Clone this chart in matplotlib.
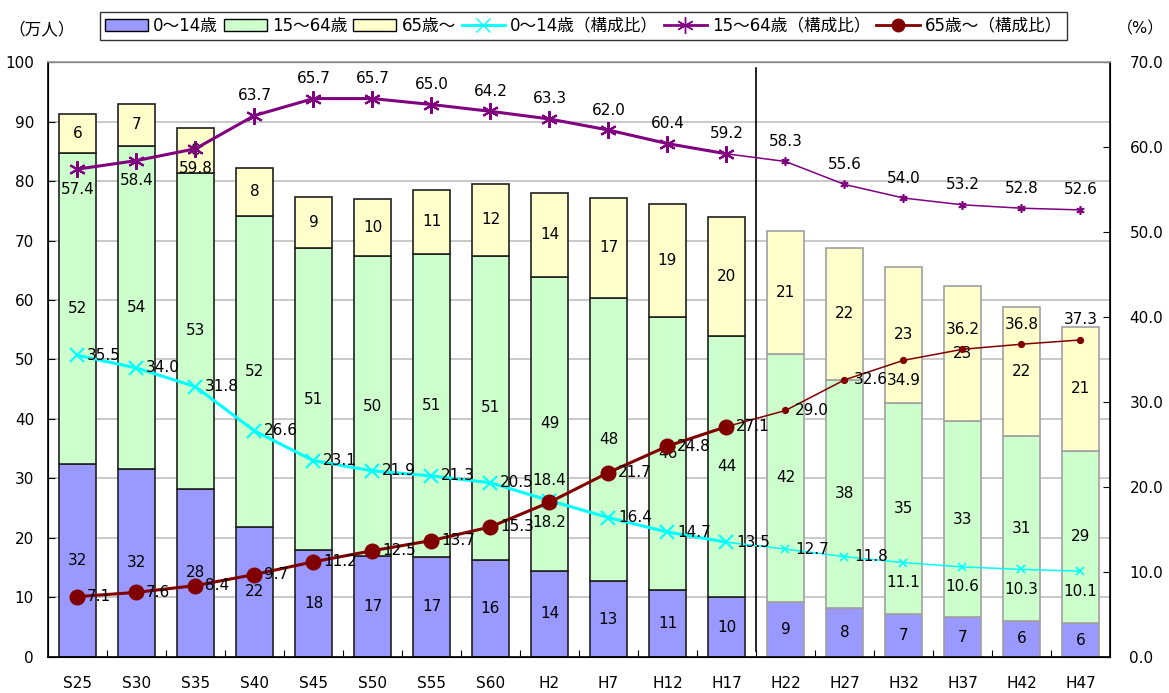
import numpy as np
import matplotlib.pyplot as plt
from matplotlib.patches import Patch
from matplotlib.lines import Line2D

plt.rcParams['font.family'] = ['DejaVu Sans', 'Noto Sans CJK JP']

years = ["S25", "S30", "S35", "S40", "S45", "S50", "S55", "S60", "H2", "H7",
         "H12", "H17", "H22", "H27", "H32", "H37", "H42", "H47"]

# population (万人)
pop_young = [32.4, 31.6, 28.3, 21.9, 17.9, 16.9, 16.8, 16.3, 14.5, 12.7,
             11.2, 10.0, 9.2, 8.2, 7.3, 6.7, 6.1, 5.7]
pop_work = [52.3, 54.3, 53.1, 52.3, 50.8, 50.5, 51.0, 51.1, 49.4, 47.6,
            46.0, 44.0, 41.8, 38.4, 35.4, 32.9, 31.0, 29.0]
pop_old = [6.5, 7.1, 7.5, 8.0, 8.6, 9.6, 10.7, 12.1, 14.1, 16.9,
           19.0, 20.0, 20.6, 22.2, 22.9, 22.7, 21.7, 20.7]

# share (%)
pct_young = [35.5, 34.0, 31.8, 26.6, 23.1, 21.9, 21.3, 20.5, 18.4, 16.4,
             14.7, 13.5, 12.7, 11.8, 11.1, 10.6, 10.3, 10.1]
pct_work = [57.4, 58.4, 59.8, 63.7, 65.7, 65.7, 65.0, 64.2, 63.3, 62.0,
            60.4, 59.2, 58.3, 55.6, 54.0, 53.2, 52.8, 52.6]
pct_old = [7.1, 7.6, 8.4, 9.7, 11.2, 12.5, 13.7, 15.3, 18.2, 21.7,
           24.8, 27.1, 29.0, 32.6, 34.9, 36.2, 36.8, 37.3]

n = len(years)
n_past = 12
x = np.arange(n) + 0.5

c_young, c_work, c_old = '#9999FF', '#CCFFCC', '#FFFFCC'
l_young, l_work, l_old = '#00FFFF', '#800080', '#800000'
star = (6, 2, 0)
fs = 11

fig = plt.figure(figsize=(11.69, 6.93), dpi=100)
ax = fig.add_axes([0.041, 0.052, 0.9085, 0.8585])
ax2 = ax.twinx()

edges = ['#202020'] * n_past + ['#A0A0A0'] * (n - n_past)
bottom = np.zeros(n)
for vals, col in [(pop_young, c_young), (pop_work, c_work), (pop_old, c_old)]:
    v = np.array(vals)
    ax.bar(x, v, 0.63, bottom=bottom, color=col, edgecolor=edges, linewidth=1.2, zorder=2)
    for xi, b, h in zip(x, bottom, v):
        ax.text(xi, b + h / 2, f"{h:.0f}", ha='center', va='center', fontsize=fs, zorder=3)
    bottom += v

ax.set_xlim(0, n)
ax.set_ylim(0, 100)
ax.set_yticks(range(0, 101, 10))
ax.yaxis.grid(True, color='#C0C0C0', linewidth=1.2, zorder=0)
ax.set_axisbelow(True)
ax.set_xticks(np.arange(1, n))
ax.set_xticklabels([])
ax.set_xticks(x, minor=True)
ax.set_xticklabels(years, minor=True, fontsize=fs)
ax.tick_params(axis='x', which='minor', length=0, pad=14)
ax.tick_params(axis='x', which='major', direction='in', length=5)
ax.tick_params(axis='y', direction='in', length=5, labelsize=fs, pad=10)
ax.axvline(12, ymin=0.01, ymax=0.99, color='black', linewidth=1.2, zorder=3)

ax2.set_ylim(0, 70)
ax2.set_yticks(range(0, 71, 10))
ax2.set_yticklabels([f"{t:.1f}" for t in range(0, 71, 10)])
ax2.tick_params(axis='y', direction='in', length=5, labelsize=fs, pad=14)

for sp in ['left', 'bottom', 'right']:
    ax2.spines[sp].set_color('black')
    ax2.spines[sp].set_linewidth(1.2)
ax2.spines['top'].set_color('#A0A0A0')
ax2.spines['top'].set_linewidth(1.2)

series = [(pct_young, l_young, 'x', 10, 6), (pct_work, l_work, star, 12, 6),
          (pct_old, l_old, 'o', 10, 4)]
for vals, col, mk, ms_big, ms_small in series:
    v = np.array(vals)
    ax2.plot(x[n_past - 1:], v[n_past - 1:], color=col, lw=1.1, zorder=4)
    ax2.plot(x[n_past:], v[n_past:], ls='none', marker=mk, color=col, ms=ms_small,
             mew=1.2, zorder=5)
    ax2.plot(x[:n_past], v[:n_past], color=col, lw=2.2, marker=mk, ms=ms_big,
             mew=1.5, zorder=5)

# label placement: 'r' right, 'a' above, 'b' below
pos_young = ['r'] * 8 + ['a'] + ['r'] * 5 + ['b'] * 4
pos_work = ['b'] * 3 + ['a'] * 15
pos_old = ['r'] * 8 + ['b'] + ['r'] * 5 + ['b'] + ['a'] * 3
offsets = {'r': ((7, 0), 'left', 'center'), 'a': ((0, 9), 'center', 'bottom'),
           'b': ((0, -9), 'center', 'top')}
for vals, poss in [(pct_young, pos_young), (pct_work, pos_work), (pct_old, pos_old)]:
    for xi, v, p in zip(x, vals, poss):
        off, ha, va = offsets[p]
        ax2.annotate(f"{v:.1f}", (xi, v), xytext=off, textcoords='offset points',
                     ha=ha, va=va, fontsize=fs, zorder=6)

handles = [
    Patch(facecolor=c_young, edgecolor='black', label='0～14歳'),
    Patch(facecolor=c_work, edgecolor='black', label='15～64歳'),
    Patch(facecolor=c_old, edgecolor='black', label='65歳～'),
    Line2D([], [], color=l_young, marker='x', ms=10, lw=2, label='0～14歳（構成比）'),
    Line2D([], [], color=l_work, marker=star, ms=12, lw=2, label='15～64歳（構成比）'),
    Line2D([], [], color=l_old, marker='o', ms=9, lw=2, label='65歳～（構成比）'),
]
fig.legend(handles=handles, loc='upper center', bbox_to_anchor=(0.499, 0.995), ncol=6,
           fontsize=12, frameon=True, fancybox=False, edgecolor='black',
           handlelength=2.6, handletextpad=0.3, columnspacing=0.35, borderpad=0.3)
fig.legends[0].get_frame().set_linewidth(1.0)

fig.text(0.007, 0.958, '（万人）', fontsize=12, va='center')
fig.text(0.955, 0.958, '（%）', fontsize=11.5, va='center')

fig.savefig('out.png', dpi=100)
